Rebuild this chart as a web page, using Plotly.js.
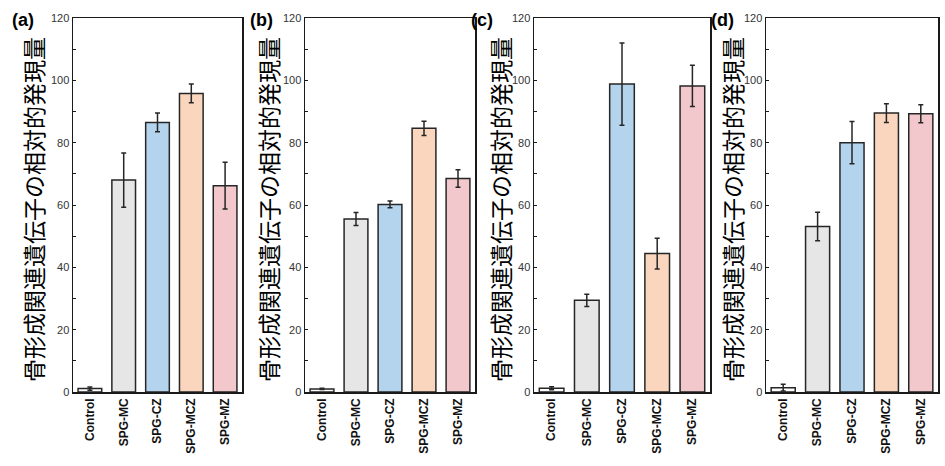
<!DOCTYPE html>
<html><head><meta charset="utf-8">
<script src="https://cdn.plot.ly/plotly-3.0.1.min.js"></script>
<style>body{margin:0;background:#fff}#c{width:945px;height:466px}</style>
</head><body><div id="c"></div>
<script>
const categories = ["Control","SPG-MC","SPG-CZ","SPG-MCZ","SPG-MZ"];
const barColors = ["#ffffff","#e6e6e6","#b4d4ee","#f9d6bd","#f2c8cc"];
const panelLabels = ["(a)","(b)","(c)","(d)"];
const yTitle = "骨形成関連遺伝子の相対的発現量";
const valuesA = [1.1, 68.0, 86.5, 95.8, 66.2];
const errorsA = [0.5, 8.7, 3.0, 3.0, 7.5];
const valuesB = [1.0, 55.5, 60.2, 84.6, 68.5];
const errorsB = [0.2, 2.1, 1.1, 2.3, 2.8];
const valuesC = [1.2, 29.4, 98.8, 44.4, 98.2];
const errorsC = [0.5, 2.0, 13.2, 4.9, 6.6];
const valuesD = [1.4, 53.1, 80.0, 89.5, 89.3];
const errorsD = [1.1, 4.6, 6.8, 3.0, 2.9];
const yTicks = [0,20,40,60,80,100,120];

const panels = [[valuesA,errorsA],[valuesB,errorsB],[valuesC,errorsC],[valuesD,errorsD]];
const W = 945, H = 466;
const xDomains = [[73,242],[305,475],[534,710],[766,938]];
const titleX = [33,268,500,732];
const labelX = [23,261,482,722];
const yDom = [1-392/H, 1-18/H];

const data = [];
const layout = {
  width: W, height: H, margin:{l:0,r:0,t:0,b:0},
  paper_bgcolor:"#fff", plot_bgcolor:"#fff", showlegend:false,
  annotations: []
};
panels.forEach((p,i)=>{
  const s = i===0 ? "" : String(i+1);
  data.push({
    type:"bar", x:categories, y:p[0], xaxis:"x"+s, yaxis:"y"+s,
    width:0.7,
    marker:{color:barColors, line:{color:"#262626", width:1.5}},
    error_y:{type:"data", array:p[1], visible:true, color:"#262626", thickness:1.5, width:2.5}
  });
  layout["xaxis"+s] = {
    domain:[xDomains[i][0]/W, xDomains[i][1]/W], anchor:"y"+s,
    type:"category", range:[-0.5,4.5], showline:true, mirror:true, linecolor:"#1a1a1a", linewidth:1.5,
    ticks:"", tickangle:-90, showgrid:false, zeroline:false,
    tickfont:{family:"Liberation Sans, Arial", size:12, color:"#111111", weight:"bold"}
  };
  layout["yaxis"+s] = {
    domain:yDom, anchor:"x"+s, range:[0,120], tickvals:yTicks,
    showline:true, mirror:true, linecolor:"#1a1a1a", linewidth:1.5,
    ticks:"inside", ticklen:3, tickcolor:"#1a1a1a", showgrid:false, zeroline:false,
    minor:{dtick:10, ticks:"inside", ticklen:3, tickcolor:"#1a1a1a", showgrid:false},
    tickfont:{family:"Liberation Sans, Arial", size:11, color:"#333333"}
  };
  layout.annotations.push({
    text:yTitle, xref:"paper", yref:"paper", x:titleX[i]/W, y:(1-210/H),
    xanchor:"center", yanchor:"middle", textangle:-90, showarrow:false,
    font:{family:"Noto Sans CJK JP", size:23, color:"#000"}
  });
  layout.annotations.push({
    text:"<b>"+panelLabels[i]+"</b>", xref:"paper", yref:"paper", x:labelX[i]/W, y:1-20/H,
    xanchor:"center", yanchor:"middle", showarrow:false,
    font:{family:"Liberation Sans, Arial", size:18, color:"#000"}
  });
});
Plotly.newPlot("c", data, layout, {staticPlot:true});
</script></body></html>
